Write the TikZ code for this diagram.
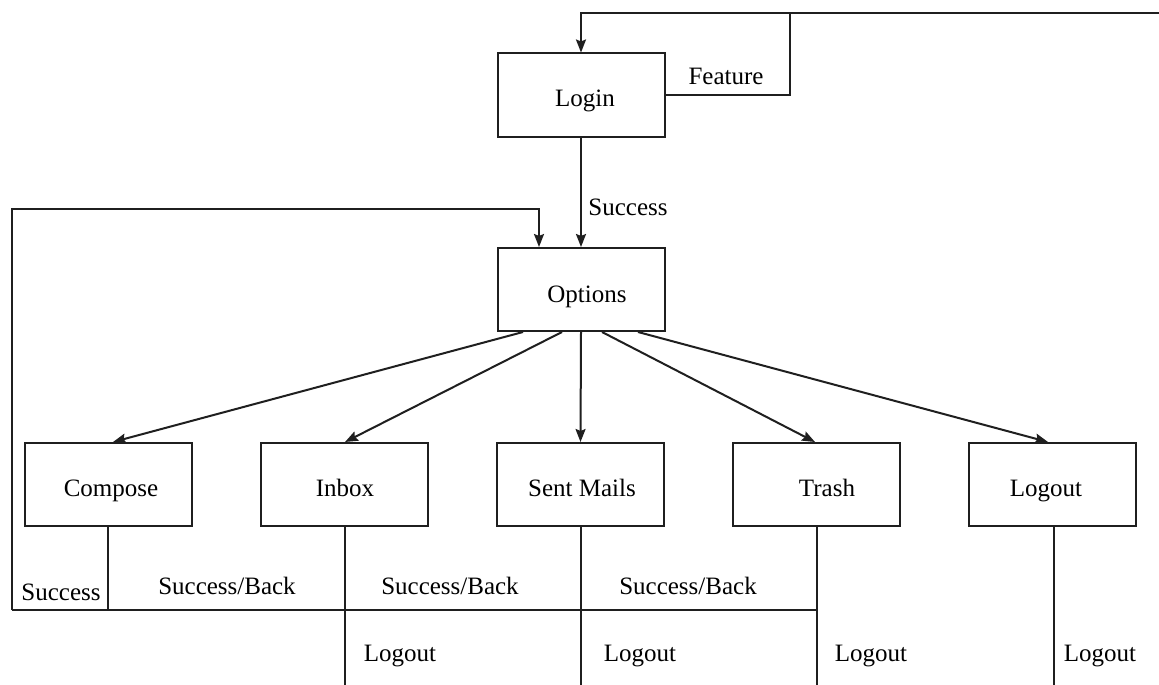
\documentclass[tikz,border=0pt]{standalone}
\usepackage{fontspec}
\setmainfont{Liberation Serif}
\usetikzlibrary{arrows.meta}
\begin{document}
\begin{tikzpicture}[x=1pt,y=-1pt,
  line width=2pt, color=black!88,
  box/.style={draw, rectangle, minimum width=167pt, minimum height=83pt, inner sep=0pt},
  lbl/.style={font=\fontsize{25}{30}\selectfont, text=black, inner sep=1pt, text height=17pt, text depth=6pt},
  arr/.style={-{Stealth[length=13pt,width=10pt,inset=2pt]}}]
\useasboundingbox (0,0) rectangle (1159,685);
\fill[white] (0,0) rectangle (1159,685);

% boxes
\node[box] (login)   at (581,95)    {};
\node[box] (options) at (581,289.5) {};
\node[box] (compose) at (108.5,484.5) {};
\node[box] (inbox)   at (344.5,484.5) {};
\node[box] (sent)    at (580.5,484.5) {};
\node[box] (trash)   at (816.5,484.5) {};
\node[box] (logout)  at (1052.5,484.5) {};

% box texts
\node[lbl] (tlogin)   at (585,101)  {Login};
\node[lbl] (toptions) at (587,297) {Options};
\node[lbl] (tcompose) at (111,491) {Compose};
\node[lbl] (tinbox)   at (345,491) {Inbox};
\node[lbl] (tsent)    at (582,491) {Sent Mails};
\node[lbl] (ttrash)   at (827,491) {Trash};
\node[lbl] (tlogout)  at (1046,491) {Logout};

% coordinates
\coordinate (topR) at (1159,13);
\coordinate (topL) at (581,13);
\coordinate (featTop) at (790,13);
\coordinate (featBot) at (790,95);
\coordinate (loopTL) at (12,209);
\coordinate (loopTR) at (539,209);
\coordinate (loopBL) at (12,610);
\coordinate (loopBR) at (817,610);
\coordinate (compJ) at (108,610);
\coordinate (inboxE) at (345,685);
\coordinate (sentE) at (581,685);
\coordinate (trashE) at (817,685);
\coordinate (logoutE) at (1054,685);

% top loop into Login
\draw[arr] (topR) -- (topL) -- (login.north);
\draw (login.east |- featBot) -- (featBot) -- (featTop);
\node[lbl] (lfeature) at (726,79) {Feature};

% Login -> Options
\draw[arr] (login.south) -- (options.north);
\node[lbl] (lsuccess1) at (628,210) {Success};

% left loop into Options
\draw[arr] (loopBL) -- (loopTL) -- (loopTR) -- (options.north -| loopTR);

% Options -> children
\draw[arr] ([xshift=-58pt]options.south) -- ([xshift=4.5pt]compose.north);
\draw[arr] ([xshift=-19pt]options.south) -- ([xshift=0.5pt]inbox.north);
\draw[arr] (options.south) -- (sent.north);
\draw[arr] ([xshift=21pt]options.south) -- ([xshift=-1.5pt]trash.north);
\draw[arr] ([xshift=57pt]options.south) -- ([xshift=-4.5pt]logout.north);

% bottom connectors
\draw (loopBL) -- (loopBR);
\draw (compose.south -| compJ) -- (compJ);
\draw (inbox.south -| inboxE) -- (inboxE);
\draw (sent.south -| sentE) -- (sentE);
\draw (trash.south -| trashE) -- (trashE);
\draw (logout.south -| logoutE) -- (logoutE);

% bottom labels
\node[lbl] (lsuccess2) at (61,595) {Success};
\node[lbl] (lsb1) at (227,589) {Success/Back};
\node[lbl] (lsb2) at (450,589) {Success/Back};
\node[lbl] (lsb3) at (688,589) {Success/Back};
\node[lbl] (llo1) at (400,656) {Logout};
\node[lbl] (llo2) at (640,656) {Logout};
\node[lbl] (llo3) at (871,656) {Logout};
\node[lbl] (llo4) at (1100,656) {Logout};
\end{tikzpicture}
\end{document}
